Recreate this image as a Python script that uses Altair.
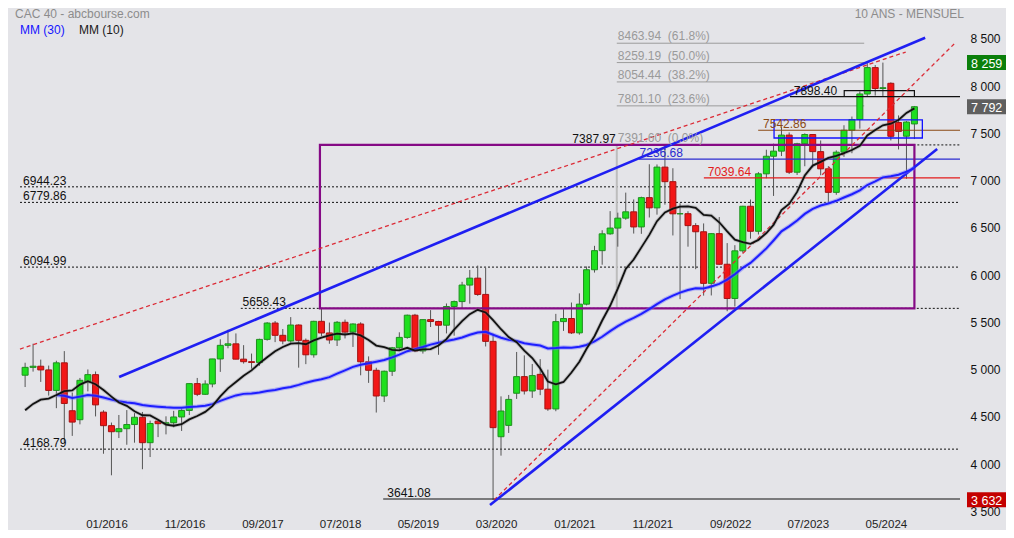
import altair as alt
import pandas as pd

# ---------------- data (monthly CAC 40, Oct 2014 -> Sep 2024) ----------------
FIRST_MONTH = "2014-10-01"
OPEN = [
    4416, 4233, 4390,
    4273, 4605, 4951, 5034, 5046, 5007, 4790, 5082, 4575, 4480, 4880, 4957,
    4560, 4417, 4353, 4385, 4429, 4506, 4237, 4465, 4438, 4448, 4509, 4578,
    4862, 4749, 4858, 5123, 5267, 5283, 5121, 5094, 5086, 5330, 5503, 5373,
    5313, 5482, 5320, 5167, 5521, 5398, 5324, 5511, 5407, 5493, 5093, 5003,
    4731, 4993, 5241, 5351, 5586, 5208, 5539, 5519, 5480, 5678, 5730, 5905,
    5978, 5806, 5309, 4300, 4420, 4760, 4936, 4784, 4960, 4803, 4594, 5518,
    5551, 5399, 5703, 6067, 6269, 6447, 6508, 6613, 6680, 6520, 6830, 6722,
    7153, 6999, 6659, 6660, 6534, 6469, 5923, 6449, 6125, 5763, 6267, 6739,
    6474, 7082, 7268, 7322, 7492, 7099, 7400, 7498, 7317, 7135, 6886, 7311,
    7543, 7657, 7927, 8206, 7985, 8040, 7625, 7480, 7610,
]
HIGH = [
    4440, 4400, 4450,
    4650, 4955, 5083, 5284, 5116, 5053, 5104, 5206, 4767, 4922, 5012, 4990,
    4580, 4450, 4530, 4582, 4550, 4562, 4470, 4472, 4516, 4574, 4600, 4864,
    4922, 4897, 5124, 5331, 5432, 5393, 5269, 5180, 5337, 5513, 5524, 5440,
    5566, 5489, 5339, 5527, 5657, 5508, 5524, 5540, 5500, 5511, 5150, 5030,
    5000, 5250, 5405, 5592, 5600, 5539, 5640, 5527, 5710, 5741, 5939, 6065,
    6111, 6087, 5393, 4727, 4742, 5197, 5161, 5070, 5121, 5010, 5600, 5650,
    5720, 5817, 6102, 6320, 6485, 6687, 6671, 6883, 6811, 6840, 7183, 7181,
    7376, 7141, 6770, 6686, 6560, 6557, 6452, 6625, 6349, 6327, 6743, 6810,
    7100, 7337, 7401, 7581, 7520, 7410, 7510, 7500, 7435, 7163, 7330, 7596,
    7688, 7954, 8253, 8233, 8259, 8050, 7700, 7640, 7800,
]
LOW = [
    3789, 4196, 4000,
    4080, 4570, 4826, 4989, 4880, 4735, 4602, 4233, 4309, 4431, 4780, 4515,
    4120, 3892, 4286, 4215, 4237, 3956, 4085, 4296, 4325, 4400, 4361, 4529,
    4730, 4742, 4823, 4986, 5236, 5119, 5074, 5020, 5050, 5317, 5301, 5278,
    5295, 5031, 5068, 5137, 5364, 5284, 5260, 5340, 5250, 4950, 4870, 4556,
    4667, 4943, 5214, 5337, 5205, 5180, 5461, 5167, 5393, 5369, 5660, 5708,
    5791, 5255, 3632, 4100, 4340, 4700, 4747, 4711, 4740, 4574, 4570, 5420,
    5387, 5380, 5690, 6037, 6120, 6437, 6311, 6596, 6450, 6447, 6620, 6650,
    6756, 6430, 5756, 6311, 6073, 5793, 5795, 6120, 5628, 5678, 6246, 6396,
    6440, 7035, 6848, 7270, 7080, 7070, 7162, 7150, 7067, 6773, 6860, 7262,
    7300, 7560, 7900, 7910, 7906, 7435, 7340, 7030, 7450,
]
CLOSE = [
    4233, 4390, 4273,
    4605, 4951, 5034, 5046, 5007, 4790, 5082, 4652, 4455, 4897, 4957, 4637,
    4417, 4353, 4385, 4429, 4506, 4237, 4440, 4438, 4448, 4509, 4578, 4862,
    4749, 4858, 5123, 5267, 5283, 5121, 5094, 5086, 5330, 5503, 5373, 5313,
    5482, 5320, 5167, 5521, 5398, 5324, 5511, 5407, 5493, 5093, 5003, 4731,
    4993, 5241, 5351, 5586, 5208, 5539, 5519, 5480, 5678, 5730, 5905, 5978,
    5806, 5309, 4396, 4572, 4695, 4936, 4784, 4947, 4803, 4594, 5518, 5551,
    5399, 5703, 6067, 6269, 6447, 6508, 6613, 6680, 6520, 6830, 6722, 7153,
    6999, 6659, 6660, 6534, 6469, 5923, 6449, 6125, 5763, 6267, 6739, 6474,
    7082, 7268, 7322, 7492, 7099, 7400, 7498, 7317, 7135, 6886, 7311, 7543,
    7657, 7927, 8206, 7985, 7993, 7479, 7531, 7630, 7792,
]

AXIS_TICKS = ["2016-01-01", "2016-11-01", "2017-09-01", "2018-07-01", "2019-05-01",
              "2020-03-01", "2021-01-01", "2021-11-01", "2022-09-01", "2023-07-01",
              "2024-05-01"]
Y_TICKS = [3500, 4000, 4500, 5000, 5500, 6000, 6500, 7000, 7500, 8000, 8500]
X_DOMAIN = ["2015-02-09", "2025-02-26"]
PLOT_END = "2025-02-26"

# dotted support levels
DOT_PRICES = [6944.23, 6779.86, 6094.99, 4168.79, 5658.43, 7387.97]
DOT_STARTS = ["2015-02-09", "2015-02-09", "2015-02-09", "2015-02-09", "2017-06-20", "2021-01-24"]

# solid coloured levels
LVL_PRICES = [7236.68, 7039.64, 7542.86, 7898.40, 3641.08]
LVL_STARTS = ["2021-09-20", "2022-06-02", "2022-12-31", "2023-05-04", "2018-12-28"]
LVL_COLORS = ["#2b2bd0", "#e31b1b", "#8b4a14", "#111111", "#111111"]
LVL_TEXT_DATES = ["2021-09-24", "2022-06-17", "2023-01-19", "2023-05-19", "2019-01-13"]

# fibonacci levels
FIB_PRICES = [8463.94, 8259.19, 8054.44, 7801.10]
FIB_PCTS = ["61.8%", "50.0%", "38.2%", "23.6%"]
FIB_START, FIB_END = "2021-06-27", "2024-02-18"
FIB_ZERO = 7391.60

# trendlines (id, date, price)
BLUE_TREND_IDS = ["up", "up", "low", "low"]
BLUE_TREND_DATES = ["2016-03-02", "2024-10-13", "2020-02-18", "2024-11-29"]
BLUE_TREND_PRICES = [4932, 8522, 3577, 7345]
RED_TREND_IDS = ["up", "up", "low", "low"]
RED_TREND_DATES = ["2015-02-09", "2024-07-29", "2020-03-05", "2025-02-03"]
RED_TREND_PRICES = [5228, 8371, 3630, 8456]

RANGE_BOX = {"x": "2018-04-25", "x2": "2024-09-01", "y": 7387.97, "y2": 5658.43}
BLUE_BOX = {"x": "2023-03-03", "x2": "2024-10-02", "y": 7652, "y2": 7461}
BRACKET_DATES = ["2023-12-02", "2023-12-02", "2024-09-01", "2024-09-01"]
BRACKET_PRICES = [7898.40, 7962, 7962, 7898.40]

LEFT_LABEL_DATE = "2015-02-21"
HIGH_LABEL_DATE = "2021-06-23"

BADGE_VALUES = [8259, 7792, 3632]
BADGE_COLORS = ["#0b7f0b", "#5f5f5f", "#c40000"]

# ---------------- frames ----------------
dates = pd.date_range(FIRST_MONTH, periods=len(CLOSE), freq="MS").strftime("%Y-%m-%d")
df = pd.DataFrame({"date": list(dates), "idx": list(range(len(CLOSE))),
                   "open": OPEN, "high": HIGH, "low": LOW, "close": CLOSE})
candles = df[df["idx"] >= 5]

FONT = "Liberation Sans"


def dt(s):
    y, m, d = map(int, s.split("-"))
    return alt.DateTime(year=y, month=m, date=d, utc=True)


XSCALE = alt.Scale(type="utc", domain=[dt(X_DOMAIN[0]), dt(X_DOMAIN[1])])
YSCALE = alt.Scale(domain=[3482.3, 8794.4], nice=False, zero=False)
XAX = alt.Axis(title=None, values=[dt(s) for s in AXIS_TICKS],
               labelExpr="utcFormat(datum.value, '%m/%Y')",
               ticks=False, tickSize=0, domain=False, grid=False, labelPadding=4, labelOffset=3,
               labelFontSize=11.5, labelColor="#222222", labelFont=FONT, labelOverlap=False)
YAX = alt.Axis(title=None, orient="right", values=Y_TICKS,
               labelExpr="replace(format(datum.value, ','), ',', ' ')",
               ticks=False, tickSize=0, domain=False, grid=False, labelPadding=5, labelOffset=-1,
               labelAlign="left", labelFontSize=12, labelColor="#111111", labelFont=FONT)


def X(field):
    return alt.X(f"{field}:T", scale=XSCALE, axis=XAX)


def Y(field):
    return alt.Y(f"{field}:Q", scale=YSCALE, axis=YAX)


layers = []

# dotted support lines
dots = pd.DataFrame({"price": DOT_PRICES, "start": DOT_STARTS, "end": [PLOT_END] * len(DOT_PRICES)})
layers.append(alt.Chart(dots).mark_rule(color="#111111", strokeWidth=1, strokeDash=[2, 2]).encode(
    x=X("start"), x2="end:T", y=Y("price")))

# fib lines
fib = pd.DataFrame({"price": FIB_PRICES, "start": [FIB_START] * 4, "end": [FIB_END] * 4,
                    "label": [f"{p:.2f}\u00a0\u00a0({q})" for p, q in zip(FIB_PRICES, FIB_PCTS)]})
layers.append(alt.Chart(fib).mark_rule(color="#9c9c9c", strokeWidth=1).encode(
    x=X("start"), x2="end:T", y=Y("price")))

# vertical grey fib anchor
vgrey = pd.DataFrame({"d": [FIB_START], "y": [FIB_ZERO], "y2": [5658.43]})
layers.append(alt.Chart(vgrey).mark_rule(color="#bdbdbd", strokeWidth=2).encode(
    x=X("d"), y=Y("y"), y2="y2:Q"))

# candles
layers.append(alt.Chart(candles).mark_rule(color="#555555", strokeWidth=1).encode(
    x=X("date"), y=Y("low"), y2="high:Q"))
up = "datum.close >= datum.open"
layers.append(alt.Chart(candles).mark_bar(size=6, strokeWidth=1).encode(
    x=X("date"), y=Y("open"), y2="close:Q",
    fill=alt.condition(up, alt.value("#1ee01e"), alt.value("#f21616")),
    stroke=alt.condition(up, alt.value("#1f8f1f"), alt.value("#a51212"))))

# solid coloured levels
lv = pd.DataFrame({"price": LVL_PRICES, "start": LVL_STARTS, "end": [PLOT_END] * len(LVL_PRICES),
                   "color": LVL_COLORS, "tdate": LVL_TEXT_DATES,
                   "label": [f"{p:.2f}" for p in LVL_PRICES]})
layers.append(alt.Chart(lv).mark_rule(strokeWidth=1.2).encode(
    x=X("start"), x2="end:T", y=Y("price"), color=alt.Color("color:N", scale=None)))

# range rectangle
layers.append(alt.Chart(pd.DataFrame([RANGE_BOX])).mark_rect(
    fillOpacity=0, stroke="#850a85", strokeWidth=2.2).encode(
    x=X("x"), x2="x2:T", y=Y("y"), y2="y2:Q"))

# blue box
layers.append(alt.Chart(pd.DataFrame([BLUE_BOX])).mark_rect(
    fillOpacity=0, stroke="#1212ff", strokeWidth=1.3).encode(
    x=X("x"), x2="x2:T", y=Y("y"), y2="y2:Q"))

# bracket
br = pd.DataFrame({"d": BRACKET_DATES, "p": BRACKET_PRICES, "o": list(range(4))})
layers.append(alt.Chart(br).mark_line(color="#111111", strokeWidth=1.2).encode(
    x=X("d"), y=Y("p"), order="o:Q"))

# trendlines
bt = pd.DataFrame({"id": BLUE_TREND_IDS, "d": BLUE_TREND_DATES, "p": BLUE_TREND_PRICES})
rt = pd.DataFrame({"id": RED_TREND_IDS, "d": RED_TREND_DATES, "p": RED_TREND_PRICES})
layers.append(alt.Chart(rt).mark_line(color="#dc2a35", strokeWidth=1.3, strokeDash=[4, 3]).encode(
    x=X("d"), y=Y("p"), detail="id:N"))
layers.append(alt.Chart(bt).mark_line(color="#1f1ff2", strokeWidth=2.6).encode(
    x=X("d"), y=Y("p"), detail="id:N"))

# moving averages (computed from closes)
ma = alt.Chart(df).transform_window(
    mm10="mean(close)", frame=[-9, 0], sort=[alt.SortField("idx")]
).transform_window(
    mm30="mean(close)", frame=[-29, 0], sort=[alt.SortField("idx")])
m30 = ma.transform_filter("datum.idx >= 9")
m10 = ma.transform_filter("datum.idx >= 5")
layers.append(m30.mark_line(color="#7070ff", strokeWidth=4.2, opacity=0.45).encode(x=X("date"), y=Y("mm30")))
layers.append(m30.mark_line(color="#1e1eff", strokeWidth=2).encode(x=X("date"), y=Y("mm30")))
layers.append(m10.mark_line(color="#777777", strokeWidth=3.6, opacity=0.35).encode(x=X("date"), y=Y("mm10")))
layers.append(m10.mark_line(color="#111111", strokeWidth=1.8).encode(x=X("date"), y=Y("mm10")))

# level labels
left = pd.DataFrame({"d": [LEFT_LABEL_DATE] * 4, "price": DOT_PRICES[:4],
                     "label": [f"{p:.2f}" for p in DOT_PRICES[:4]]})
mid = pd.DataFrame({"d": ["2017-06-27"], "price": [5658.43], "label": ["5658.43"]})
txt = dict(font=FONT, fontSize=12, align="left", baseline="alphabetic", dy=-2)
layers.append(alt.Chart(left).mark_text(color="#111111", **txt).encode(x=X("d"), y=Y("price"), text="label:N"))
layers.append(alt.Chart(mid).mark_text(color="#111111", **txt).encode(x=X("d"), y=Y("price"), text="label:N"))
layers.append(alt.Chart(lv).mark_text(**txt).encode(
    x=X("tdate"), y=Y("price"), text="label:N", color=alt.Color("color:N", scale=None)))
hi = pd.DataFrame({"d": [HIGH_LABEL_DATE], "price": [7387.97], "label": ["7387.97"]})
layers.append(alt.Chart(hi).mark_text(font=FONT, fontSize=12, align="right", baseline="alphabetic",
                                      dy=-2, color="#111111").encode(x=X("d"), y=Y("price"), text="label:N"))
fib_txt = pd.concat([fib[["price", "label"]],
                     pd.DataFrame({"price": [FIB_ZERO], "label": [f"{FIB_ZERO:.2f}\u00a0\u00a0(0.0%)"]})])
fib_txt["d"] = FIB_START
layers.append(alt.Chart(fib_txt).mark_text(font=FONT, fontSize=12, align="left", baseline="alphabetic",
                                           dy=-3, dx=1, color="#9a9a9a").encode(
    x=X("d"), y=Y("price"), text="label:N"))

# right-hand value badges
bd = pd.DataFrame({"price": BADGE_VALUES, "color": BADGE_COLORS,
                   "label": [f"{v:,}".replace(",", " ") for v in BADGE_VALUES]})
layers.append(alt.Chart(bd).mark_rule(strokeWidth=15).encode(
    x=alt.value(952), x2=alt.value(1000), y=Y("price"), color=alt.Color("color:N", scale=None)))
layers.append(alt.Chart(bd).mark_text(font=FONT, fontSize=12.5, align="left", baseline="middle",
                                      color="#ffffff", dy=1).encode(
    x=alt.value(956), y=Y("price"), text="label:N"))

# header texts
def header(text, x, y, color, align="left"):
    return alt.Chart(pd.DataFrame({"t": [text]})).mark_text(
        font=FONT, fontSize=12, align=align, baseline="alphabetic", color=color).encode(
        x=alt.value(x), y=alt.value(y), text="t:N")


layers.append(header("CAC 40 - abcbourse.com", 0, 6, "#8c8c8c"))
layers.append(header("10 ANS - MENSUEL", 949, 6, "#8c8c8c", align="right"))
layers.append(header("MM (30)", 5, 22, "#1414ff"))
layers.append(header("MM (10)", 64, 22, "#1a1a1a"))

chart = alt.layer(*layers).properties(
    width=950, height=502,
    padding={"left": 7, "top": 4, "right": 41, "bottom": 16},
    autosize=alt.AutoSizeParams(type="none"),
    background="#e4e4e8",
).configure_view(strokeWidth=0)

chart.save("out.html", embed_options={"renderer": "svg", "actions": False})
